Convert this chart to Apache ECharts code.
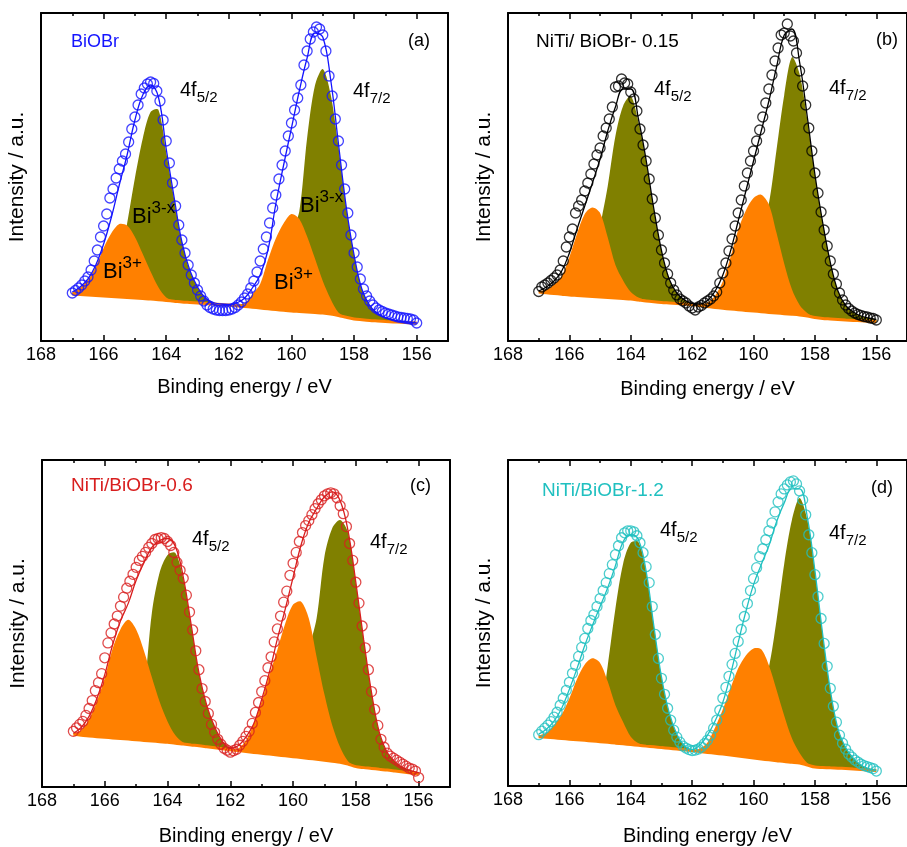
<!DOCTYPE html>
<html><head><meta charset="utf-8">
<script src="https://cdn.jsdelivr.net/npm/echarts@6/dist/echarts.min.js"></script>
<style>html,body{margin:0;padding:0;background:#fff}#c{width:907px;height:847px}</style>
</head><body><div id="c"></div>
<script>
// Energy grid (eV) of the fitted curves
const gridE = [167,166.75,166.5,166.25,166,165.75,165.5,165.25,165,164.75,164.5,164.25,164,163.75,163.5,163.25,163,162.75,162.5,162.25,162,161.75,161.5,161.25,161,160.75,160.5,160.25,160,159.75,159.5,159.25,159,158.75,158.5,158.25,158,157.75,157.5,157.25,157,156.75,156.5,156.25,156];
// Energy of the measured points (eV)
const dataE = [167,166.9,166.8,166.7,166.6,166.5,166.4,166.3,166.2,166.1,
166,165.9,165.8,165.7,165.6,165.5,165.4,165.3,165.2,165.1,
165,164.9,164.8,164.7,164.6,164.5,164.4,164.3,164.2,164.1,
164,163.9,163.8,163.7,163.6,163.5,163.4,163.3,163.2,163.1,
163,162.9,162.8,162.7,162.6,162.5,162.4,162.3,162.2,162.1,
162,161.9,161.8,161.7,161.6,161.5,161.4,161.3,161.2,161.1,
161,160.9,160.8,160.7,160.6,160.5,160.4,160.3,160.2,160.1,
160,159.9,159.8,159.7,159.6,159.5,159.4,159.3,159.2,159.1,
159,158.9,158.8,158.7,158.6,158.5,158.4,158.3,158.2,158.1,
158,157.9,157.8,157.7,157.6,157.5,157.4,157.3,157.2,157.1,
157,156.9,156.8,156.7,156.6,156.5,156.4,156.3,156.2,156.1,
156];
const majorTicks = [156,158,160,162,164,166,168];
const minorTicks = [157,159,161,163,165,167];

// ---- (a) BiOBr ----
const baseA = [47,46.5,46,45.5,45,44.5,44,43.5,43,42.5,42,41.3,40.5,39.8,39,38.5,38,37.5,37,36.5,36,35.2,34.5,33.8,33,32.2,31.5,30.7,30,29.5,29,28.5,28,27,25.5,23.7,22,21.2,20.5,20,19.5,19.1,18.7,18.3,18];
const bi3A = [1.5,7,15,29,48,63.5,73,72,61,44.5,27.5,12.5,3,0.5,0,0,0,0,0,0,0,1,3,13,24,49,71,87,97,92.5,75.5,54,32,15,3,0.5,0,0,0,0,0,0,0,0,0];
const bixA = [0,0,2,2,4,15,35,74,120,160,187,190,148,103,60,32,16,5,1.5,0.5,0.3,1,3,6,9,11,28,53,78,100,174,227,244,220,169,110,64,30.5,15,7.7,4,2,1,0.5,0];
const fitA = [49,54,62,76,97,124,156,186,221,246,256,244,192,144,99,71,54,43,38.5,37,36.5,38,42.7,53,66,91,137,176,213,250,283,308,304,262,197.5,134,86,51.7,35.5,27.7,23.5,21.1,19.7,18.8,18];
const dataA = [48,50.5,53,56,60,64,71,80,91,104,
115,127,143,152,163,172,180,187,199,212,
224,236,247,253,257,259,257.5,250,240,221,
200,178,158,135,116,101,88,76,66,58,
51,45,40,36,33.5,32,31,30.5,30.5,30.5,
31,32,33.5,36,39,43,47,53,60,69,
80,92,104,118,133,146,162,176,190,205,
218,231,243,256,276,290,302,309,314,312,
306,290,265,245,222,200,176,152,128,106,
88,74,62,52,45,40,36,33,31,29.5,
28,27,26,25,24,23.5,23,22.5,22,21,
18];

// ---- (b) NiTi/BiOBr-0.15 ----
const baseB = [49,48.2,47.5,46.8,46,45.5,45,44.5,44,43.5,43,42.5,42,41,40,39.2,38.5,38,37.5,37,36.5,35.5,34.5,33.5,32.7,32,31.3,30.6,30,29.3,28.6,28,27.3,26.7,26,25,23.5,22.5,22,21.5,21,20.6,20.2,19.8,19.5];
const bi3B = [0.5,3,9,18,38,62,82,89,84,60,33,18,7,2.5,1,0.3,0,0,0,0,0,1.5,4,12,27,52,80,100,113,117,108,80,50,25,10,3,0.5,0,0,0,0,0,0,0,0];
const bixB = [0,0,0,0,0,2,8,25,70,111.5,162,192.5,203,178,140,93,52,24,10.5,4,1,0.3,0.5,2,5,10,20,35,55,85,109,163.5,218.7,257,241,196.5,142.5,96.5,56.7,28.5,14.5,8.4,4.8,3.2,2];
const fitB = [50,54,60,70,88,112,135,158,182,210,234,252,252,222,181,132.5,90.5,62,48,41,37.5,37,40.5,50,66,90,120,150,180,210,240,274,306,312,279,224.5,166.5,119,78.7,50,35.5,29,25,23,21.5];
const dataB = [49.5,54,56,58,60.5,63,66,71,80,94,
104,112,128,135,141,150,158,167,177,186,
193,205,213,222,234,254,255,262,258,257,
249,242,230,212,196,180,162,142,123,106,
91,78,67,58,51,46,42,40,38,35,
33,31,34,35.5,38,40,42,45,49,58,
68,78,90,102,115,128,141,155,168,180,
190,200,211,224,238,252,266,280,293,306,
308,317,305,300,288,270,255,236,213,190,
168,148,129,111,95,80,67,57,48,41,
36,32.5,30,28,26.5,25.5,24.5,24,23,22.5,
21];

// ---- (c) NiTi/BiOBr-0.6 ----
const baseC = [53,52,51.3,50.6,50,49.4,48.8,48.2,47.5,46.9,46.3,45.6,45,44,43.2,42.3,41.5,40.5,39.5,38.5,37.5,36.6,35.7,34.8,34,33.1,32.2,31.4,30.5,29.6,28.7,27.9,27,26,25,23,20.5,19.5,18.7,17.8,17,16,15,14,13];
const bi3C = [0.5,5,17,36,60,90,110,120,111,90,64,40,21,8,1.5,0.3,0,0,0,0,0.5,2,11,29,52,80,106,133,153,157,141,103,66,36,15,3,0.5,0,0,0,0,0,0,0,0];
const bixC = [0,0,0,0.5,1,2,4,8,18,50,128.7,170.4,188.5,191.5,166.8,121.3,73.5,41.5,21,7.5,1.2,0.5,1,3,6,12,22,37,55,80,110,141.8,205,234.7,243.7,233,184.8,128.5,76.3,36.9,17.6,9.3,4.5,2.5,1.5];
const fitC = [54,60,71,89,113,143,167,185,208,226,241,248,250,242,211.5,164,115,82,60.5,46,39,41.5,50.5,64,88,116,149,179,211,243,266,280,292,297,288,258,205.8,148,95,54.7,34.6,25.3,19.5,16.5,14.5];
const dataC = [56,59.5,63,66,72,79,87,97,105,114,
130,145,155,164,172,182,191,200,207,214,
221,228,232,236,241,245,249,250,251,250,
247,243,236,226,218,210,193,176,158,137,
118,99,86,74,63,55,48,43,39,37,
35,36.5,38,42,46,51,56,64,75,85,
96,107,120,131,146,159,172,186,197,213,
225,236,247,256,263,268,274,280,285,289,
293,295,296,295,291,283,275,262,245,228,
206,185,162,140,118,96,78,62,48,40,
34,31,29,27,25,23,21,19,18,16,
9.5];

// ---- (d) NiTi/BiOBr-1.2 ----
const baseD = [49.5,48.9,48.3,47.6,47,46.4,45.8,45.1,44.5,43.8,43,42.3,41.5,40.8,40,39.3,38.5,37.8,37,36.3,35.5,34.6,33.7,32.9,32,31,30,29,28,27.1,26.2,25.4,24.5,23.8,23,21,19,18.6,18.2,17.9,17.5,17,16.5,16,15.5];
const bi3D = [1,4.5,13,24,41,61,76,83,79,61,38,22,8,2,0.5,0,0,0,0,0,0.5,3,10,26,45,67,88,102,110,110,95,71,46,24,10,2,0.5,0,0,0,0,0,0,0,0];
const bixD = [0,0,0,0,0.5,1,3,8,25,77,135,180.7,202.5,204,175,121.7,71,36,15,4,0.5,0.5,1,2.5,5,10,18,30,48,70,93,141,198.5,243,266,246.5,196.7,134.4,78.3,39.6,21,11,4.5,1.5,0.2];
const fitD = [52,57,65,78,97,118,141,161,180,199,221,245,252,247,215.5,161,109.5,73.8,52,40.3,36.5,41,51,65.5,84,112,144,175,202,222,241,265,284,298,298,270,216,153,96.5,57.5,38.5,28,21,17.5,15.7];
const dataD = [51.5,55,58,61,64.5,69,74,81,88,96,
104,113,121,130,139,148,158,166,172,180,
188,196,204,213,222,232,241,249,254,256,
256,255,251,244,234,220,204,180,152,128,
108,92,78,66,56,49,44,40,38,36.5,
35.5,36,37,39,42.5,46,51,58,66,76,
88,99,110,122,133,145,157,170,183,196,
208,219,230,238,247,256,264,275,285,293,
298,302,305,306,303,296,287,272,252,234,
212,190,168,143,120,98,80,64,51,43,
37,32,29,26,24,22,20.5,19.5,18.5,17.5,
15];

const FONT = "'Liberation Sans', Arial, Helvetica, sans-serif";
const ORANGE = '#ff8000', OLIVE = '#808000';

const panels = [
  {grid:{left:41, top:13, width:407, height:328}, ymax:328, base:baseA, bi3:bi3A, bix:bixA, fit:fitA, data:dataA, color:'#1414ff', xName:'Binding energy / eV', gap:36},
  {grid:{left:508, top:13, width:406, height:328}, ymax:328, base:baseB, bi3:bi3B, bix:bixB, fit:fitB, data:dataB, color:'#000000', xName:'Binding energy / eV', gap:38},
  {grid:{left:42, top:460, width:408, height:329}, ymax:329, base:baseC, bi3:bi3C, bix:bixC, fit:fitC, data:dataC, color:'#d81e1e', xName:'Binding energy / eV', gap:39},
  {grid:{left:508, top:460, width:406, height:327}, ymax:327, base:baseD, bi3:bi3D, bix:bixD, fit:fitD, data:dataD, color:'#20c0c0', xName:'Binding energy /eV', gap:40}
];

const grids = [], xAxes = [], yAxes = [], series = [];

function xAxis(gi, pos, ticks, len, showLine, showLabel, name, gap) {
  return {
    type:'value', gridIndex:gi, min:155, max:168, inverse:true, position:pos,
    axisLine:{show:showLine, onZero:false, lineStyle:{color:'#000', width:2}},
    axisTick:{show:true, inside:true, length:len, customValues:ticks, lineStyle:{color:'#000', width:1.5}},
    axisLabel:{show:showLabel, customValues:ticks, margin:5, fontSize:18, color:'#000', fontFamily:FONT},
    splitLine:{show:false}, minorTick:{show:false},
    name: name || '', nameLocation:'middle', nameGap: gap || 0,
    nameTextStyle:{fontSize:20, color:'#000', fontFamily:FONT}
  };
}

function band(E, base, h, color, xi, yi, z) {
  return {
    type:'custom', xAxisIndex:xi, yAxisIndex:yi, z:z, silent:true,
    data:[[E[0], base[0]]],
    renderItem:function(params, api){
      const top = E.map(function(e,k){ return api.coord([e, base[k] + h[k]]); });
      const bot = E.map(function(e,k){ return api.coord([e, base[k]]); }).reverse();
      return {type:'polygon', shape:{points: top.concat(bot), smooth:0.3}, style:{fill:color}};
    }
  };
}

panels.forEach(function(p, i){
  grids.push(p.grid);
  const xi = xAxes.length;
  xAxes.push(xAxis(i, 'bottom', majorTicks, 6, true, true, p.xName, p.gap));
  xAxes.push(xAxis(i, 'bottom', minorTicks, 3, false, false));
  xAxes.push(xAxis(i, 'top', majorTicks, 6, true, false));
  xAxes.push(xAxis(i, 'top', minorTicks, 3, false, false));
  const yi = yAxes.length;
  yAxes.push({type:'value', gridIndex:i, min:0, max:p.ymax, position:'left',
    axisLine:{show:true, onZero:false, lineStyle:{color:'#000', width:2}},
    axisTick:{show:false}, axisLabel:{show:false}, splitLine:{show:false},
    name:'Intensity / a.u.', nameLocation:'middle', nameGap:13, nameRotate:90,
    nameTextStyle:{fontSize:21, color:'#000', fontFamily:FONT}});
  yAxes.push({type:'value', gridIndex:i, min:0, max:p.ymax, position:'right',
    axisLine:{show:true, onZero:false, lineStyle:{color:'#000', width:2}},
    axisTick:{show:false}, axisLabel:{show:false}, splitLine:{show:false}});

  series.push(band(gridE, p.base, p.bix, OLIVE, xi, yi, 1));
  series.push(band(gridE, p.base, p.bi3, ORANGE, xi, yi, 2));
  series.push({type:'line', xAxisIndex:xi, yAxisIndex:yi, z:3, silent:true, smooth:0.3, symbol:'none',
    lineStyle:{color:ORANGE, width:3}, data: gridE.map(function(e,k){ return [e, p.base[k]]; })});
  series.push({type:'line', xAxisIndex:xi, yAxisIndex:yi, z:4, silent:true, smooth:0.4, symbol:'none',
    lineStyle:{color:p.color, width:1.3}, data: gridE.map(function(e,k){ return [e, p.fit[k]]; })});
  series.push({type:'scatter', xAxisIndex:xi, yAxisIndex:yi, z:5, silent:true, symbol:'circle', symbolSize:10,
    itemStyle:{color:'rgba(255,255,255,0)', borderColor:p.color, borderWidth:1.3},
    data: dataE.map(function(e,k){ return [e, p.data[k]]; })});
});

const richBase = {
  m:{fontSize:20, lineHeight:30, fontFamily:FONT, fill:'#000'},
  s:{fontSize:15, lineHeight:15, verticalAlign:'bottom', fontFamily:FONT, fill:'#000'},
  b:{fontSize:22, lineHeight:34, fontFamily:FONT, fill:'#000'},
  u:{fontSize:17, lineHeight:17, verticalAlign:'top', fontFamily:FONT, fill:'#000'}
};
function txt(x, y, text, color, size) {
  return {type:'text', x:x, y:y, silent:true, z:100,
    style:{text:text, fill:color || '#000', font: (size || 19) + 'px ' + FONT, align:'left', verticalAlign:'middle', rich:richBase}};
}
const graphic = [
  txt(71, 42, 'BiOBr', '#1414ff', 18),
  txt(408, 41, '(a)', '#000', 18),
  txt(180, 90, '{m|4f}{s|5/2}'),
  txt(353, 91, '{m|4f}{s|7/2}'),
  txt(132, 217, '{b|Bi}{u|3-x}'),
  txt(103, 272, '{b|Bi}{u|3+}'),
  txt(300, 206, '{b|Bi}{u|3-x}'),
  txt(274, 283, '{b|Bi}{u|3+}'),

  txt(536, 42, 'NiTi/ BiOBr- 0.15', '#000', 19),
  txt(876, 40, '(b)', '#000', 18),
  txt(654, 89, '{m|4f}{s|5/2}'),
  txt(829, 88, '{m|4f}{s|7/2}'),

  txt(71, 486, 'NiTi/BiOBr-0.6', '#d81e1e', 19),
  txt(410, 486, '(c)', '#000', 18),
  txt(192, 539, '{m|4f}{s|5/2}'),
  txt(370, 542, '{m|4f}{s|7/2}'),

  txt(542, 491, 'NiTi/BiOBr-1.2', '#20c0c0', 19),
  txt(871, 488, '(d)', '#000', 18),
  txt(660, 530, '{m|4f}{s|5/2}'),
  txt(829, 533, '{m|4f}{s|7/2}')
];

const chart = echarts.init(document.getElementById('c'), null, {renderer:'canvas'});
chart.setOption({
  animation:false, backgroundColor:'#fff',
  grid:grids, xAxis:xAxes, yAxis:yAxes, series:series, graphic:graphic
});
</script></body></html>
